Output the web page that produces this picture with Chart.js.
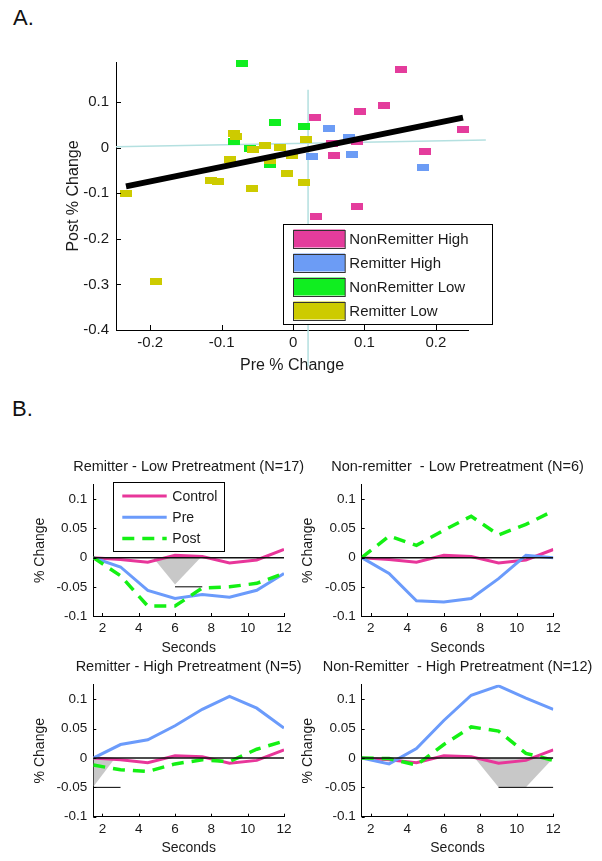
<!DOCTYPE html>
<html>
<head>
<meta charset="utf-8">
<script src="https://cdn.jsdelivr.net/npm/chart.js@4.4.1/dist/chart.umd.min.js"></script>
<style>
  body { margin: 0; background: #fff; width: 602px; height: 861px; position: relative; overflow: hidden;
         font-family: Arial, "Liberation Sans", sans-serif; }
  canvas { position: absolute; }
  .panel { position: absolute; font-size: 22px; line-height: 22px; color: #111; }
</style>
</head>
<body>
<div class="panel" style="left:13px;top:7px">A.</div>
<div class="panel" style="left:12px;top:398px">B.</div>
<canvas id="scatter" width="602" height="400" style="left:0;top:0"></canvas>
<canvas id="tl" width="310" height="208" style="left:0;top:450px"></canvas>
<canvas id="tr" width="317" height="208" style="left:285px;top:450px"></canvas>
<canvas id="bl" width="310" height="206" style="left:0;top:655px"></canvas>
<canvas id="br" width="317" height="206" style="left:285px;top:655px"></canvas>
<script>
// ---- Panel A data: pre vs post % change, one point per subject ----
const nrHighPre  = [0.151, 0.127, 0.094, 0.031, 0.238, 0.090, 0.055, 0.185, 0.058, 0.090, 0.032];
const nrHighPost = [0.172, 0.092, 0.080, 0.067, 0.041, 0.013, 0.009, -0.009, -0.017, -0.128, -0.151];
const rHighPre   = [0.050, 0.079, 0.027, 0.082, 0.182];
const rHighPost  = [0.042, 0.022, -0.020, -0.014, -0.043];
const nrLowPre   = [-0.072, -0.025, 0.016, -0.083, -0.061, -0.032];
const nrLowPost  = [0.184, 0.055, 0.047, 0.014, -0.001, -0.037];
const rLowPre    = [-0.234, -0.192, -0.115, -0.105, -0.088, -0.083, -0.080, -0.058, -0.056, -0.039,
                    -0.032, -0.018, -0.009, -0.002, 0.016, 0.018];
const rLowPost   = [-0.100, -0.293, -0.071, -0.075, -0.025, 0.031, 0.024, -0.090, -0.004, 0.004,
                    -0.028, 0.001, -0.057, -0.017, -0.076, 0.019];
const fitX = [-0.234, 0.238], fitY = [-0.085, 0.066];
const hMeanX = [-0.248, 0.270], hMeanY = [0.002, 0.017];
const vMeanX = [0.021, 0.021], vMeanY = [0.127, -0.48];
const xTicksA = [-0.2, -0.1, 0, 0.1, 0.2];
const yTicksA = [-0.4, -0.3, -0.2, -0.1, 0, 0.1];

// ---- Panel B data: time courses ----
const seconds = [1.5, 3, 4.5, 6, 7.5, 9, 10.5, 12];
const control = [0, -0.003, -0.008, 0.004, 0.002, -0.009, -0.004, 0.014];
const rLowPreB   = [0, -0.016, -0.056, -0.070, -0.063, -0.068, -0.056, -0.027];
const rLowPostB  = [0, -0.031, -0.083, -0.083, -0.052, -0.050, -0.044, -0.027];
const nrLowPreB  = [0, -0.027, -0.074, -0.076, -0.070, -0.036, 0.004, 0.000];
const nrLowPostB = [0, 0.037, 0.021, 0.047, 0.071, 0.039, 0.057, 0.080];
const rHighPreB  = [0, 0.023, 0.031, 0.055, 0.083, 0.105, 0.085, 0.051];
const rHighPostB = [-0.012, -0.020, -0.023, -0.010, -0.003, -0.006, 0.015, 0.029];
const nrHighPreB = [0, -0.010, 0.016, 0.064, 0.107, 0.123, 0.102, 0.083];
const nrHighPostB = [0, -0.001, -0.012, 0.023, 0.053, 0.046, 0.008, -0.004];
// shaded regions and significance bars (drawn at -0.05)
const rLowShadeX = [4.8, 6, 7.4],           rLowShadeY = [0, -0.046, 0];
const rHighShadeX = [1.5, 2.7],             rHighShadeY = [-0.049, 0];
const nrHighShadeX = [7.7, 9, 10.5, 12],    nrHighShadeY = [0, -0.05, -0.05, 0];
const rLowSigX = [6, 7.5], rHighSigX = [1.5, 3], nrHighSigX = [9, 12];
const sigLevel = -0.05;
const xTicksB = [2, 4, 6, 8, 10, 12];
const yTicksB = [-0.1, -0.05, 0, 0.05, 0.1];

const pts = (xs, ys) => xs.map((x, i) => ({ x, y: ys[i] }));

Chart.defaults.font.family = 'Arial, "Liberation Sans", sans-serif';
Chart.defaults.color = '#1a1a1a';

// small inward tick marks on both axes
const innerTicks = {
  id: 'innerTicks',
  afterDraw(chart, args, o) {
    const { ctx, chartArea: a, scales: { x, y } } = chart;
    const len = o.len || 4;
    ctx.save();
    ctx.strokeStyle = '#000';
    ctx.lineWidth = 1;
    ctx.beginPath();
    x.ticks.forEach(t => {
      const px = Math.round(x.getPixelForValue(t.value)) + 0.5;
      ctx.moveTo(px, a.bottom); ctx.lineTo(px, a.bottom - len);
    });
    y.ticks.forEach(t => {
      const py = Math.round(y.getPixelForValue(t.value)) + 0.5;
      ctx.moveTo(a.left, py); ctx.lineTo(a.left + len, py);
    });
    ctx.stroke();
    ctx.restore();
  }
};

// title centred over the axes but allowed to run wider than them
const wideTitle = {
  id: 'wideTitle',
  afterLayout(chart) {
    const t = chart.titleBlock;
    if (!t) return;
    const c = (chart.chartArea.left + chart.chartArea.right) / 2;
    t.left = c - 150; t.right = c + 150; t.width = 300;
  }
};

// boxed legend placed inside the plot
const boxLegend = {
  id: 'boxLegend',
  afterDraw(chart, args, o) {
    if (!o || !o.show) return;
    const ctx = chart.ctx;
    const items = chart.data.datasets.filter(d => d.inLegend);
    ctx.save();
    ctx.fillStyle = '#fff';
    ctx.fillRect(o.x, o.y, o.w, o.h);
    ctx.strokeStyle = '#000';
    ctx.lineWidth = 1;
    ctx.strokeRect(Math.round(o.x) + 0.5, Math.round(o.y) + 0.5, Math.round(o.w), Math.round(o.h));
    ctx.font = o.font;
    ctx.textBaseline = 'middle';
    items.forEach((d, i) => {
      const cy = o.y + o.rowY + i * o.rowGap;
      if (o.kind === 'rect') {
        ctx.fillStyle = d.legendColor;
        ctx.fillRect(o.x + o.swX, cy - o.swH / 2, o.swW, o.swH);
        ctx.strokeStyle = '#333';
        ctx.lineWidth = 1;
        ctx.strokeRect(Math.round(o.x + o.swX) + 0.5, Math.round(cy - o.swH / 2) + 0.5, o.swW, o.swH);
      } else {
        ctx.strokeStyle = d.borderColor;
        ctx.lineWidth = d.borderWidth;
        ctx.setLineDash(d.borderDash || []);
        ctx.beginPath();
        ctx.moveTo(o.x + o.swX, cy); ctx.lineTo(o.x + o.swX + o.swW, cy);
        ctx.stroke();
        ctx.setLineDash([]);
      }
      ctx.fillStyle = '#1a1a1a';
      ctx.fillText(d.label, o.x + o.textX, cy + 1);
    });
    ctx.restore();
  }
};

function axis(isX, min, max, ticks, fontSize, fixed, pad, titleText, titleSize, titlePad) {
  return {
    type: 'linear', min, max,
    afterBuildTicks: s => { s.ticks = ticks.map(v => ({ value: v })); },
    afterFit: s => { if (isX) s.height = fixed; else s.width = fixed; },
    grid: { display: false, drawTicks: false },
    border: { display: true, color: '#000', width: 1 },
    ticks: { font: { size: fontSize }, padding: pad, autoSkip: false, maxRotation: 0,
             callback: v => String(v) },
    title: { display: true, text: titleText, font: { size: titleSize },
             padding: isX ? { top: 0, bottom: titlePad } : { top: titlePad, bottom: 0 } }
  };
}

function marker(color) {
  const c = document.createElement('canvas');
  c.width = 12; c.height = 7;
  const g = c.getContext('2d');
  g.fillStyle = color;
  g.fillRect(0, 0, 12, 7);
  return c;
}

const colPink = '#E43C9C', colBlue = '#6C9CF5', colGreen = '#10EE20', colYellow = '#CDCB00';

function group(label, xs, ys, color, order) {
  return { label, data: pts(xs, ys), pointStyle: marker(color), pointRadius: 6,
           backgroundColor: color, legendColor: color, inLegend: true, clip: false, order };
}

new Chart(document.getElementById('scatter'), {
  type: 'scatter',
  data: {
    datasets: [
      { label: 'fit', data: pts(fitX, fitY), showLine: true, borderColor: '#000', borderWidth: 6,
        pointRadius: 0, order: 0 },
      group('NonRemitter High', nrHighPre, nrHighPost, colPink, 2),
      group('Remitter High', rHighPre, rHighPost, colBlue, 1),
      group('NonRemitter Low', nrLowPre, nrLowPost, colGreen, 4),
      group('Remitter Low', rLowPre, rLowPost, colYellow, 3),
      { label: 'h', data: pts(hMeanX, hMeanY), showLine: true, borderColor: '#B4E0E0', borderWidth: 1.5,
        pointRadius: 0, clip: false, order: 5 },
      { label: 'v', data: pts(vMeanX, vMeanY), showLine: true, borderColor: '#B4E0E0', borderWidth: 1.5,
        pointRadius: 0, clip: false, order: 5 }
    ]
  },
  options: {
    responsive: false, animation: false, events: [],
    layout: { padding: { left: 0, right: 134, top: 62, bottom: 0 } },
    plugins: {
      legend: { display: false }, tooltip: { enabled: false },
      innerTicks: { len: 5 },
      boxLegend: { show: true, kind: 'rect', x: 282.7, y: 224, w: 209, h: 100, rowY: 14.5, rowGap: 24,
                   swX: 10.6, swW: 51.7, swH: 18, textX: 66.6, font: '15px Arial, "Liberation Sans", sans-serif' }
    },
    scales: {
      x: axis(true, -0.248, 0.245, xTicksA, 15, 70, 4, 'Pre % Change', 16, 24.4),
      y: axis(false, -0.4, 0.188, yTicksA, 15, 116, 7, 'Post % Change', 16, 64)
    }
  },
  plugins: [innerTicks, boxLegend]
});

function subplot(id, title, pre, post, shadeX, shadeY, sigX, g) {
  const datasets = [
    { label: 'Control', data: pts(seconds, control), borderColor: '#E8369A', borderWidth: 3,
      pointRadius: 0, inLegend: true, order: 4 },
    { label: 'Pre', data: pts(seconds, pre), borderColor: '#6B9BFB', borderWidth: 3,
      pointRadius: 0, inLegend: true, order: 3 },
    { label: 'Post', data: pts(seconds, post), borderColor: '#14F014', borderWidth: 3.5, borderDash: [12, 8],
      pointRadius: 0, inLegend: true, order: 2 },
    { label: 'zero', data: pts([seconds[0], seconds[seconds.length - 1]], [0, 0]), borderColor: '#111',
      borderWidth: 1.5, pointRadius: 0, order: 0 }
  ];
  if (shadeX) {
    datasets.push({ label: 'shade', data: pts(shadeX, shadeY), borderWidth: 0, borderColor: 'rgba(0,0,0,0)',
                    backgroundColor: '#C8C8C8', fill: 'origin', pointRadius: 0, order: 6 });
  }
  if (sigX) {
    datasets.push({ label: 'sig', data: pts(sigX, sigX.map(() => sigLevel)), borderColor: '#000',
                    borderWidth: 1, pointRadius: 0, order: 1 });
  }
  new Chart(document.getElementById(id), {
    type: 'line',
    data: { datasets },
    options: {
      responsive: false, animation: false, events: [],
      layout: { autoPadding: false, padding: { left: 0, right: g.padRight, top: 0, bottom: 0 } },
      plugins: {
        legend: { display: false }, tooltip: { enabled: false },
        title: { display: true, text: title, fullSize: false, font: { size: 14.5, weight: 'normal' },
                 color: '#1a1a1a', padding: { top: g.tTop, bottom: 9 } },
        innerTicks: { len: 3 },
        boxLegend: g.legend ? { show: true, kind: 'line', x: 112.7, y: 32.3, w: 111.3, h: 68.7, rowY: 13.7,
                                rowGap: 21.2, swX: 9.6, swW: 44.4, textX: 59.6,
                                font: '14px Arial, "Liberation Sans", sans-serif' } : { show: false }
      },
      scales: {
        x: axis(true, 1.5, 12, xTicksB, 13.5, g.xH, 4.2, 'Seconds', 14, g.xTitle),
        y: axis(false, -0.1, 0.125, yTicksB, 13.5, g.yW, 6, '% Change', 14, g.yTitle)
      }
    },
    plugins: [wideTitle, innerTicks, boxLegend]
  });
}

subplot('tl', 'Remitter - Low Pretreatment (N=17)', rLowPreB, rLowPostB, rLowShadeX, rLowShadeY, rLowSigX,
        { yW: 93.3, xH: 42, padRight: 26, tTop: 8.3, yTitle: 31.6, xTitle: 1.9, legend: true });
subplot('tr', 'Non-remitter  - Low Pretreatment (N=6)', nrLowPreB, nrLowPostB, null, null, null,
        { yW: 76.7, xH: 42, padRight: 48.7, tTop: 8.3, yTitle: 14.6, xTitle: 1.9 });
subplot('bl', 'Remitter - High Pretreatment (N=5)', rHighPreB, rHighPostB, rHighShadeX, rHighShadeY, rHighSigX,
        { yW: 93.3, xH: 44.3, padRight: 26, tTop: 3.3, yTitle: 31.6, xTitle: 4.6 });
subplot('br', 'Non-Remitter  - High Pretreatment (N=12)', nrHighPreB, nrHighPostB, nrHighShadeX, nrHighShadeY,
        nrHighSigX, { yW: 76.7, xH: 44.3, padRight: 48.7, tTop: 3.3, yTitle: 14.6, xTitle: 4.6 });
</script>
</body>
</html>
